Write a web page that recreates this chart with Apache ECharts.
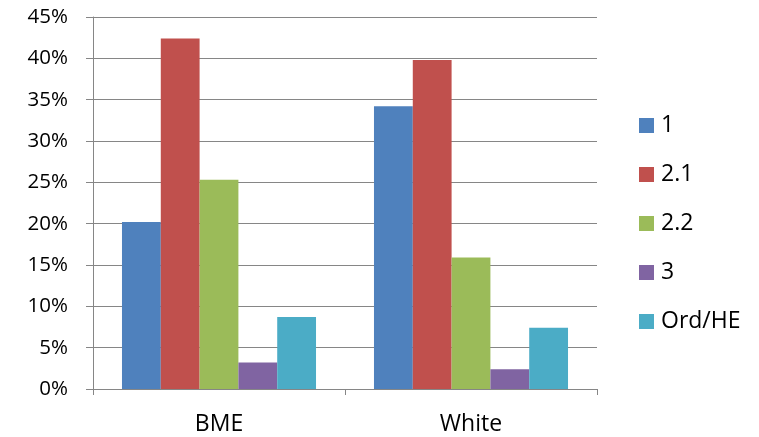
<!DOCTYPE html>
<html><head><meta charset="utf-8">
<script src="https://cdn.jsdelivr.net/npm/echarts@6/dist/echarts.min.js"></script>
<style>html,body{margin:0;padding:0;background:#fff}#c{width:759px;height:437px}</style>
</head><body><div id="c"></div>
<script>
const categories = ['BME', 'White'];
const seriesNames = ['1', '2.1', '2.2', '3', 'Ord/HE'];
const s1 = [20.2, 34.2];
const s21 = [42.4, 39.8];
const s22 = [25.3, 15.9];
const s3 = [3.2, 2.4];
const sOrd = [8.7, 7.4];
const yTicks = [0, 5, 10, 15, 20, 25, 30, 35, 40, 45];
const colors = ['#4F81BD', '#C0504D', '#9BBB59', '#8064A2', '#4BACC6'];
const values = [s1, s21, s22, s3, sOrd];
const FONT = 'Open Sans';
const chart = echarts.init(document.getElementById('c'), null, {renderer: 'canvas'});
chart.setOption({
  animation: false,
  color: colors,
  textStyle: {fontFamily: FONT},
  grid: {left: 93, right: 162, top: 17, bottom: 48, containLabel: false},
  legend: {
    orient: 'vertical', left: 639, top: 114, padding: 0,
    itemWidth: 15, itemHeight: 15, itemGap: 26,
    icon: 'rect',
    textStyle: {fontFamily: FONT, fontSize: 23, color: '#000', lineHeight: 22, padding: [0, 0, 0, 2]},
    data: seriesNames
  },
  xAxis: {
    type: 'category', data: categories,
    axisLine: {lineStyle: {color: '#868686', width: 1}},
    axisTick: {show: true, length: 6, lineStyle: {color: '#868686'}},
    axisLabel: {fontFamily: FONT, fontSize: 23, color: '#000', margin: 24}
  },
  yAxis: {
    type: 'value', min: yTicks[0], max: yTicks[yTicks.length - 1], interval: 5,
    axisLine: {show: true, lineStyle: {color: '#868686', width: 1}},
    axisTick: {show: true, length: 7, lineStyle: {color: '#868686'}},
    splitLine: {lineStyle: {color: '#868686', width: 1}},
    axisLabel: {fontFamily: FONT, fontSize: 20.5, color: '#000', margin: 25, formatter: v => v + '%'}
  },
  series: seriesNames.map((n, i) => ({
    name: n, type: 'bar', data: values[i],
    barGap: '0%', barCategoryGap: '23%',
    itemStyle: {color: colors[i]}
  }))
});
</script></body></html>
